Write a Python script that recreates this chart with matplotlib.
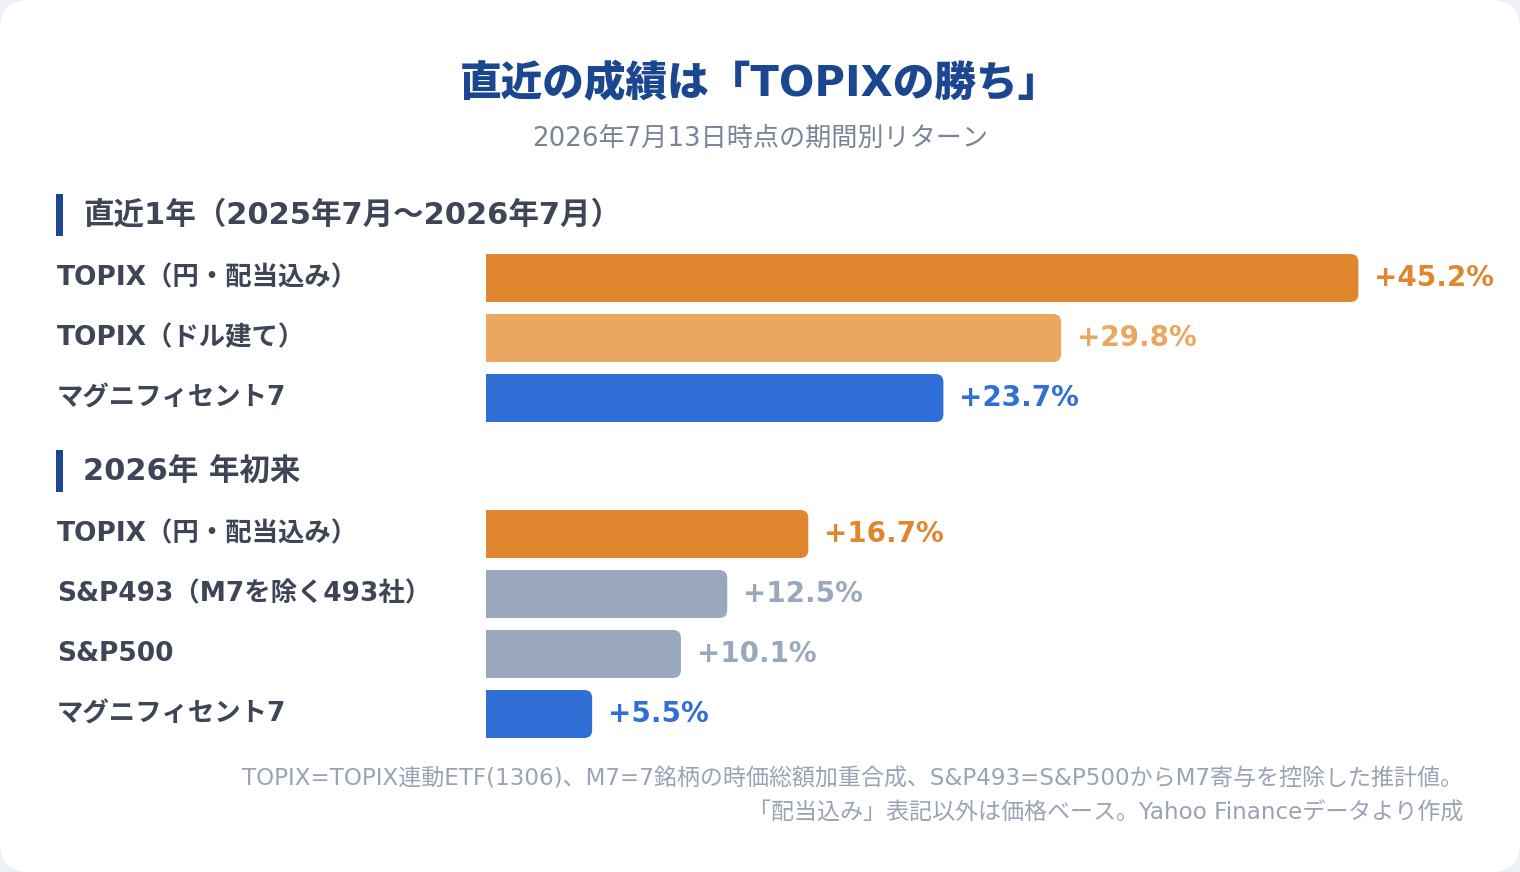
import matplotlib
matplotlib.use("Agg")
import matplotlib.pyplot as plt
from matplotlib.patches import FancyBboxPatch, Rectangle

plt.rcParams['font.family'] = ['DejaVu Sans', 'Noto Sans CJK JP']

# ---------------- data ----------------
title = "直近の成績は「TOPIXの勝ち」"
subtitle = "2026年7月13日時点の期間別リターン"

section1_title = "直近1年（2025年7月〜2026年7月）"
section1_labels = ["TOPIX（円・配当込み）", "TOPIX（ドル建て）", "マグニフィセント7"]
section1_values = [45.2, 29.8, 23.7]

section2_title = "2026年 年初来"
section2_labels = ["TOPIX（円・配当込み）", "S&P493（M7を除く493社）", "S&P500", "マグニフィセント7"]
section2_values = [16.7, 12.5, 10.1, 5.5]

footnote_lines = [
    "TOPIX=TOPIX連動ETF(1306)、M7=7銘柄の時価総額加重合成、S&P493=S&P500からM7寄与を控除した推計値。",
    "「配当込み」表記以外は価格ベース。Yahoo Financeデータより作成",
]

# ---------------- styles ----------------
ORANGE = "#E0862E"
LIGHT_ORANGE = "#EBA660"
BLUE = "#2F6FD6"
GRAY = "#9AA8BE"
section1_colors = [ORANGE, LIGHT_ORANGE, BLUE]
section2_colors = [ORANGE, GRAY, GRAY, BLUE]

TITLE_C = "#1B4690"
TEXT_C = "#3D4556"
SUB_C = "#7A8499"
FOOT_C = "#9AA3B5"
BG = "#EDF1F7"

W, H = 1520, 872
fig = plt.figure(figsize=(W / 100, H / 100), dpi=100)
fig.patch.set_facecolor(BG)

# overlay axes in pixel coordinates
ov = fig.add_axes([0, 0, 1, 1])
ov.set_xlim(0, W)
ov.set_ylim(H, 0)
ov.axis("off")
ov.add_patch(FancyBboxPatch((0, 0), W, H, boxstyle="round,pad=0,rounding_size=30",
                            fc="white", ec="none", zorder=0))

# bar axes: x in percent, y in pixels
X0 = 486          # pixel where 0% sits
S = 19.3          # pixels per percent
bx = fig.add_axes([0, 0, 1, 1])
bx.set_xlim(-X0 / S, (W - X0) / S)
bx.set_ylim(H, 0)
bx.axis("off")
bx.patch.set_alpha(0)

ov.text(W / 2, 84, title, ha="center", va="center", fontsize=30,
        fontweight="black", color=TITLE_C)
ov.text(W / 2, 139, subtitle, ha="center", va="center", fontsize=18.8,
        color=SUB_C)

BAR_H = 48
R = 8


def draw_section(header, header_y, labels, values, colors, row_y0):
    ov.add_patch(Rectangle((56, header_y - 21), 7, 42, fc=TITLE_C, ec="none"))
    ov.text(83, header_y, header, ha="left", va="center", fontsize=22,
            fontweight="bold", color=TEXT_C)
    for i, (lab, v, c) in enumerate(zip(labels, values, colors)):
        y = row_y0 + i * 60
        ov.text(57, y, lab, ha="left", va="center", fontsize=19,
                fontweight="bold", color=TEXT_C)
        bx.add_patch(FancyBboxPatch((0, y - BAR_H / 2), v, BAR_H,
                                    boxstyle=f"round,pad=0,rounding_size={R / S}",
                                    mutation_aspect=S, fc=c, ec="none", zorder=2))
        bx.add_patch(Rectangle((0, y - BAR_H / 2), v / 2, BAR_H, fc=c,
                               ec="none", zorder=2))
        bx.text(v + 16 / S, y, f"+{v:.1f}%", ha="left", va="center",
                fontsize=20, fontweight="bold", color=c)


draw_section(section1_title, 215, section1_labels, section1_values,
             section1_colors, 278)
draw_section(section2_title, 471, section2_labels, section2_values,
             section2_colors, 534)

ov.text(1463, 779, footnote_lines[0], ha="right", va="center", fontsize=16.6,
        color=FOOT_C)
ov.text(1463, 813, footnote_lines[1], ha="right", va="center", fontsize=16.6,
        color=FOOT_C)

fig.savefig("out.png", dpi=100, facecolor=BG)
